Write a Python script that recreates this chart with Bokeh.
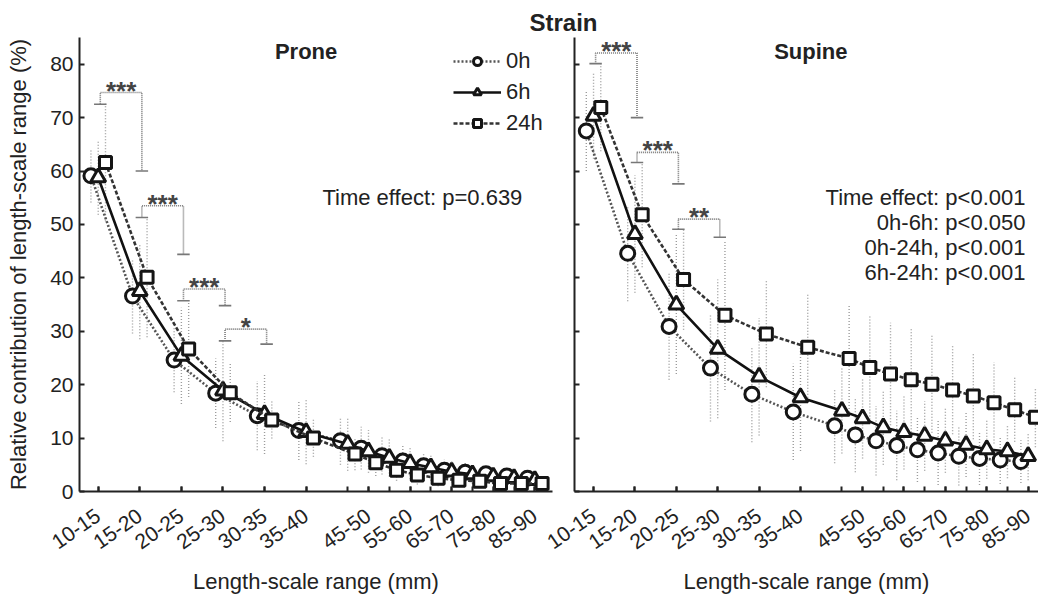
from bokeh.plotting import figure
from bokeh.layouts import row
from bokeh.models import FixedTicker, Range1d, Label, Legend, LegendItem, ColumnDataSource
from bokeh.embed import file_html
from bokeh.resources import INLINE
from bokeh.core.properties import value

# ---------------- data ----------------
ranges = ["10-15", "15-20", "20-25", "25-30", "30-35", "35-40", "40-45", "45-50",
          "50-55", "55-60", "60-65", "65-70", "70-75", "75-80", "80-85", "85-90"]
tick_labels = ["10-15", "15-20", "20-25", "25-30", "30-35", "35-40",
               "45-50", "55-60", "65-70", "75-80", "85-90"]
series_names = ["0h", "6h", "24h"]

prone_0h = [59.1, 36.6, 24.6, 18.4, 14.2, 11.4, 9.5, 8.1, 6.7, 5.7, 4.8, 4.0, 3.6, 3.3, 2.9, 2.5]
prone_6h = [58.8, 37.5, 25.4, 18.9, 14.5, 11.1, 8.9, 7.5, 6.3, 5.3, 4.5, 3.7, 3.2, 2.8, 2.5, 2.1]
prone_24h = [61.6, 40.1, 26.7, 18.5, 13.4, 10.0, 7.0, 5.4, 4.0, 3.1, 2.5, 2.1, 1.9, 1.5, 1.5, 1.5]
prone_0h_err = [5.0, 7.0, 6.0, 6.5, 6.5, 5.5, 4.5, 4.0, 3.5, 3.0, 2.5, 2.0, 1.8, 1.5, 1.3, 1.2]
prone_6h_err = [7.0, 9.0, 9.0, 9.5, 7.5, 6.0, 5.0, 4.0, 3.5, 3.0, 2.5, 2.0, 1.8, 1.5, 1.3, 1.2]
prone_24h_err = [11.0, 11.2, 9.0, 5.5, 3.5, 3.5, 3.0, 2.5, 2.0, 1.8, 1.5, 1.3, 1.2, 1.0, 1.0, 1.0]

supine_0h = [67.5, 44.6, 30.9, 23.1, 18.2, 14.9, 12.3, 10.6, 9.5, 8.6, 7.8, 7.2, 6.6, 6.2, 5.9, 5.6]
supine_6h = [70.3, 48.2, 35.0, 26.7, 21.5, 17.6, 15.1, 13.7, 12.0, 11.1, 10.4, 9.5, 8.7, 7.9, 7.5, 6.6]
supine_24h = [71.9, 51.8, 39.7, 33.0, 29.5, 27.0, 24.9, 23.2, 22.0, 20.9, 20.1, 19.0, 17.9, 16.6, 15.3, 13.9]
supine_0h_err = [7.5, 9.0, 10.0, 10.0, 9.0, 9.0, 7.0, 7.0, 6.5, 6.5, 6.0, 6.0, 5.5, 5.0, 4.5, 4.0]
supine_6h_err = [8.0, 11.0, 13.0, 13.0, 11.0, 10.0, 8.0, 7.5, 7.0, 7.0, 6.5, 6.0, 6.0, 5.5, 5.0, 4.5]
supine_24h_err = [8.2, 9.8, 9.4, 14.0, 10.0, 10.0, 10.0, 9.7, 9.6, 9.8, 9.1, 8.3, 8.1, 7.6, 6.0, 5.6]

# significance brackets (from range, to range, left end, top, right end, label)
prone_sig_from = ["10-15", "15-20", "20-25", "25-30"]
prone_sig_to = ["15-20", "20-25", "25-30", "30-35"]
prone_sig_left = [72.5, 51.3, 35.7, 28.2]
prone_sig_top = [74.7, 53.5, 37.9, 30.4]
prone_sig_right = [60.0, 44.4, 34.8, 27.6]
prone_sig_label = ["***", "***", "***", "*"]

supine_sig_from = ["10-15", "15-20", "20-25"]
supine_sig_to = ["15-20", "20-25", "25-30"]
supine_sig_left = [80.1, 61.6, 49.1]
supine_sig_top = [82.1, 63.5, 51.0]
supine_sig_right = [70.0, 57.6, 47.6]
supine_sig_label = ["***", "***", "**"]

prone_notes = ["Time effect: p=0.639"]
supine_notes = ["Time effect: p<0.001", "0h-6h: p<0.050", "0h-24h, p<0.001", "6h-24h: p<0.001"]

y_ticks = [0, 10, 20, 30, 40, 50, 60, 70, 80]

# axis positions: ranges below 40 mm are spaced twice as wide
positions = []
cur = 0
for i, r in enumerate(ranges):
    if i > 0:
        lower = int(r.split("-")[0])
        cur += 2 if lower <= 40 else 1
    positions.append(cur)
pos_of = dict(zip(ranges, positions))
labeled_positions = [pos_of[t] for t in tick_labels]

FONT = "Liberation Sans"
TXT = "#222222"
dodge = {"0h": -0.35, "6h": 0.0, "24h": 0.35}
line_style = {
    "0h": dict(line_color="#555555", line_width=2.6, line_dash="2 2"),
    "6h": dict(line_color="#111111", line_width=2.6, line_dash="solid"),
    "24h": dict(line_color="#333333", line_width=2.6, line_dash="4 2"),
}
marker_style = {"0h": ("circle", 14), "6h": ("triangle", 15), "24h": ("square", 12)}


def style_ticks(ax):
    ax.axis_line_color = TXT
    ax.axis_line_width = 2
    for kind in ("major", "minor"):
        setattr(ax, kind + "_tick_line_color", TXT)
        setattr(ax, kind + "_tick_line_width", 2)
        setattr(ax, kind + "_tick_in", 5)
        setattr(ax, kind + "_tick_out", 0)
    ax.major_label_text_font = FONT
    ax.major_label_text_color = TXT
    ax.major_label_text_font_size = "21px"
    ax.axis_label_text_font = FONT
    ax.axis_label_text_font_style = "normal"
    ax.axis_label_text_color = TXT
    ax.axis_label_text_font_size = "22px"


def make_panel(width, border_left, border_right, xr, show_ylabels, margin=None):
    kw = dict(width=width, height=596, output_backend="svg", toolbar_location=None,
              x_range=Range1d(*xr), y_range=Range1d(0, 85),
              min_border_left=border_left, min_border_right=border_right,
              min_border_top=37, min_border_bottom=105)
    if margin is not None:
        kw["margin"] = margin
    p = figure(**kw)
    p.background_fill_color = None
    p.border_fill_color = None
    p.outline_line_color = None
    p.grid.visible = False
    style_ticks(p.xaxis[0])
    style_ticks(p.yaxis[0])
    p.xaxis.ticker = FixedTicker(ticks=labeled_positions, minor_ticks=positions)
    p.xaxis.major_label_overrides = {pos_of[t]: t for t in tick_labels}
    p.xaxis.major_label_orientation = 0.61
    p.xaxis.major_label_standoff = 22
    p.xaxis.axis_label = "Length-scale range (mm)"
    p.xaxis.axis_label_standoff = 10
    if show_ylabels:
        p.yaxis.ticker = FixedTicker(ticks=y_ticks)
        p.yaxis.major_label_standoff = 6
        p.yaxis.axis_label = "Relative contribution of length-scale range (%)"
        p.yaxis.axis_label_standoff = 16
    else:
        p.yaxis.ticker = FixedTicker(ticks=[], minor_ticks=y_ticks)
        p.yaxis.major_label_standoff = 0
    return p


def draw_series(p, vals, errs):
    rends = {}
    for name in series_names:
        xs = [pos + dodge[name] for pos in positions]
        lo = [v - e for v, e in zip(vals[name], errs[name])]
        hi = [v + e for v, e in zip(vals[name], errs[name])]
        src = ColumnDataSource(dict(x=xs, lo=lo, hi=hi))
        p.segment(x0="x", y0="lo", x1="x", y1="hi", source=src,
                  line_color="#9c9c9c", line_width=1.4, line_dash="1 2")
    for name in series_names:
        xs = [pos + dodge[name] for pos in positions]
        src = ColumnDataSource(dict(x=xs, y=vals[name]))
        lr = p.line("x", "y", source=src, **line_style[name])
        mk, sz = marker_style[name]
        mr = p.scatter("x", "y", source=src, marker=mk, size=sz, fill_color="white",
                       line_color="#151515", line_width=3)
        rends[name] = [lr, mr]
    return rends


def draw_brackets(p, froms, tos, lefts, tops, rights, labels):
    off = 0.1
    for f, t, yl, yt, yr, lab in zip(froms, tos, lefts, tops, rights, labels):
        xl = pos_of[f] + off
        xr = pos_of[t] + off
        p.multi_line(xs=[[xl, xl, xr, xr]], ys=[[yl, yt, yt, yr]],
                     line_color="#777777", line_width=1.6, line_dash="1 1")
        p.segment(x0=[xl - 0.3, xr - 0.3], y0=[yl, yr], x1=[xl + 0.3, xr + 0.3], y1=[yl, yr],
                  line_color="#777777", line_width=1.6)
        p.text(x=[(xl + xr) / 2], y=[yt], text=[lab], text_align="center",
               text_baseline="middle", y_offset=-2, text_font=value(FONT),
               text_font_style="bold", text_font_size="26px", text_color="#444444")


def add_notes(p, notes, x, y0, dy):
    for i, t in enumerate(notes):
        p.add_layout(Label(x=x, y=y0 - i * dy, text=t, text_align="right", text_baseline="middle",
                           text_font=FONT, text_font_size="22px", text_color=TXT))


# ---------------- left panel: Prone ----------------
p1 = make_panel(560, 79, 8, (-0.9, 21.85), True)
r1 = draw_series(p1, {"0h": prone_0h, "6h": prone_6h, "24h": prone_24h},
                 {"0h": prone_0h_err, "6h": prone_6h_err, "24h": prone_24h_err})
draw_brackets(p1, prone_sig_from, prone_sig_to, prone_sig_left, prone_sig_top,
              prone_sig_right, prone_sig_label)
p1.add_layout(Label(x=10.0, y=82.3, text="Prone", text_align="center", text_baseline="middle",
                    text_font=FONT, text_font_size="22px", text_font_style="bold", text_color=TXT))
add_notes(p1, prone_notes, 20.4, 55.1, 4.7)

legend = Legend(items=[LegendItem(label=n, renderers=r1[n]) for n in series_names],
                location=(374, 355), glyph_width=48, glyph_height=20, spacing=5,
                padding=0, margin=0, label_standoff=5, border_line_color=None,
                background_fill_alpha=0, label_text_font=FONT, label_text_font_size="22px",
                label_text_color=TXT)
p1.add_layout(legend)

# ---------------- right panel: Supine ----------------
p2 = make_panel(518, 54, 0, (-0.92, 21.5), False, margin=(0, 0, 0, -40))
draw_series(p2, {"0h": supine_0h, "6h": supine_6h, "24h": supine_24h},
            {"0h": supine_0h_err, "6h": supine_6h_err, "24h": supine_24h_err})
draw_brackets(p2, supine_sig_from, supine_sig_to, supine_sig_left, supine_sig_top,
              supine_sig_right, supine_sig_label)
p2.add_layout(Label(x=10.5, y=82.3, text="Supine", text_align="center", text_baseline="middle",
                    text_font=FONT, text_font_size="22px", text_font_style="bold", text_color=TXT))
p2.title.text = "Strain"
p2.title.align = "left"
p2.title.offset = -45
p2.title.standoff = 3
p2.title.text_font = FONT
p2.title.text_font_size = "24px"
p2.title.text_font_style = "bold"
p2.title.text_color = TXT
add_notes(p2, supine_notes, 20.87, 55.1, 4.7)

layout = row(p1, p2, spacing=0)
open("out.html", "w").write(file_html(layout, INLINE))
